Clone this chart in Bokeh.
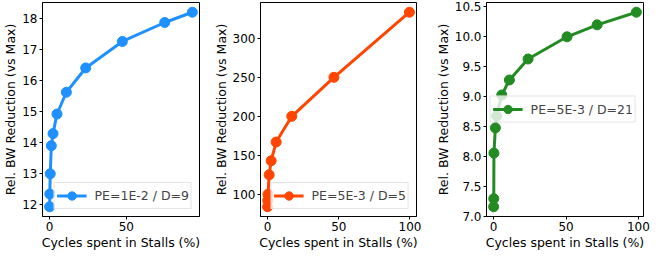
from bokeh.plotting import figure
from bokeh.layouts import row
from bokeh.models import Range1d, FixedTicker, Legend, LegendItem, PrintfTickFormatter
from bokeh.embed import file_html
from bokeh.resources import INLINE

# Panel 1: PE=1E-2 / D=9
x1 = [0.0, 0.1, 0.4, 1.1, 2.2, 4.8, 10.9, 23.5, 47.4, 75.0, 93.0]
y1 = [11.94, 12.35, 13.0, 13.9, 14.29, 14.92, 15.62, 16.4, 17.25, 17.86, 18.19]
# Panel 2: PE=5E-3 / D=5
x2 = [0.0, 0.1, 0.3, 1.1, 2.5, 6.0, 17.0, 46.6, 99.6]
y2 = [84.0, 92.0, 100.0, 125.0, 143.0, 167.0, 200.0, 250.0, 333.5]
# Panel 3: PE=5E-3 / D=21
x3 = [0.0, 0.1, 0.2, 1.2, 2.1, 5.6, 10.9, 23.8, 50.7, 71.5, 98.6]
y3 = [7.155, 7.29, 8.05, 8.47, 8.67, 9.02, 9.27, 9.62, 9.99, 10.19, 10.40]

labels = ["PE=1E-2 / D=9", "PE=5E-3 / D=5", "PE=5E-3 / D=21"]
colors = ["#1E90FF", "#FF4500", "#228B22"]
yticks = [[12, 13, 14, 15, 16, 17, 18], [100, 150, 200, 250, 300], [7.0, 7.5, 8.0, 8.5, 9.0, 9.5, 10.0, 10.5]]
xticks = [0, 50, 100]
xlabel = "Cycles spent in Stalls (%)"
ylabel = "Rel. BW Reduction (vs Max)"

FONT = "DejaVu Sans"
TFS = "12px"
LFS = "12.5px"

def rng(v):
    lo, hi = min(v), max(v)
    m = (hi - lo) * 0.05
    return Range1d(lo - m, hi + m)

def panel(x, y, color, label, yt, fw, bl, br, loc, fmt=None):
    p = figure(frame_width=fw, frame_height=214, output_backend="svg", toolbar_location=None,
               min_border_left=bl, min_border_right=br, min_border_top=2, min_border_bottom=32,
               x_range=rng(x), y_range=rng(y))
    p.grid.visible = False
    p.outline_line_color = "black"
    p.outline_line_width = 1
    p.outline_line_alpha = 1
    r1 = p.line(x, y, line_color=color, line_width=3)
    r2 = p.scatter(x, y, size=10, fill_color=color, line_color=color)
    p.xaxis.ticker = FixedTicker(ticks=xticks)
    p.yaxis.ticker = FixedTicker(ticks=yt)
    if fmt:
        p.yaxis.formatter = PrintfTickFormatter(format=fmt)
    for ax in (p.xaxis[0], p.yaxis[0]):
        ax.major_label_text_font = FONT
        ax.major_label_text_font_size = TFS
        ax.major_label_text_color = "black"
        ax.axis_label_text_font = FONT
        ax.axis_label_text_font_size = LFS
        ax.axis_label_text_font_style = "normal"
        ax.axis_label_text_color = "black"
        ax.major_tick_out = 3
        ax.major_tick_in = 0
        ax.minor_tick_out = 0
        ax.minor_tick_in = 0
        ax.major_label_standoff = 2
        ax.axis_label_standoff = 1
        ax.axis_line_color = "black"
    p.xaxis.axis_label = xlabel
    p.yaxis.axis_label = ylabel
    leg = Legend(items=[LegendItem(label=label, renderers=[r1, r2])], location=loc)
    leg.label_text_font = FONT
    leg.label_text_font_size = LFS
    leg.border_line_color = "#cccccc"
    leg.background_fill_alpha = 0.8
    leg.padding = 2
    leg.margin = 7
    leg.spacing = 0
    leg.glyph_width = 30
    leg.glyph_height = 21
    leg.label_standoff = 8
    leg.label_height = 18
    p.add_layout(leg, "center")
    return p

p1 = panel(x1, y1, colors[0], labels[0], yticks[0], 157, 37, 11, "bottom_right")
p2 = panel(x2, y2, colors[1], labels[1], yticks[1], 156, 46, 16, "bottom_right")
p3 = panel(x3, y3, colors[2], labels[2], yticks[2], 157, 50, 8, "center_right", fmt="%.1f")

layout = row(p1, p2, p3)
open("out.html", "w").write(file_html(layout, INLINE))
